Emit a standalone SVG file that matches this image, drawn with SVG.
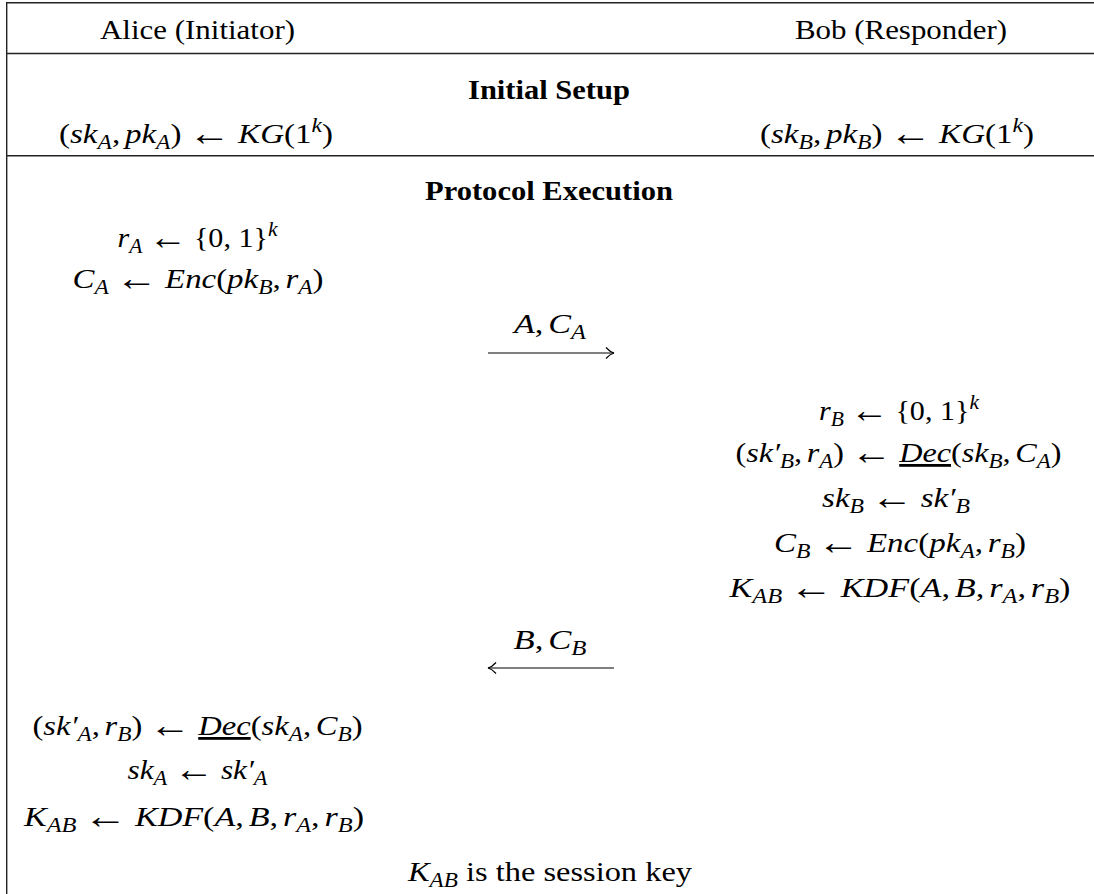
<svg xmlns="http://www.w3.org/2000/svg" width="1094" height="894" viewBox="0 0 1094 894">
<style>
.t{font-family:"Liberation Serif","Times New Roman",serif;font-size:28px;fill:#000}
.i{font-style:italic}
.s{font-size:20px}
.b{font-weight:bold}
.ar{font-size:36px;font-style:normal}
.rule{stroke:#222;stroke-width:1.4;fill:none}
.msg{stroke:#000;stroke-width:1.2;fill:none}
</style>
<defs>
<marker id="head" viewBox="0 0 10 12" refX="9" refY="6" markerWidth="10" markerHeight="12" markerUnits="userSpaceOnUse" orient="auto">
<path d="M1,0.5 Q5,5 9,6 Q5,7 1,11.5" stroke="#000" stroke-width="1.2" fill="none"/>
</marker>
</defs>
<rect width="1094" height="894" fill="#fff"/>
<g id="frame">
<line class="rule" x1="6.7" y1="2" x2="6.7" y2="894"/>
<line class="rule" x1="6" y1="2.7" x2="1094" y2="2.7"/>
<line class="rule" x1="6" y1="53.5" x2="1094" y2="53.5"/>
<line class="rule" x1="6" y1="155.7" x2="1094" y2="155.7"/>
</g>
<g id="hdr-alice"><text class="t" x="197.5" y="39" text-anchor="middle" textLength="195" lengthAdjust="spacingAndGlyphs">Alice (Initiator)</text></g>
<g id="hdr-bob"><text class="t" x="901" y="39" text-anchor="middle" textLength="212" lengthAdjust="spacingAndGlyphs">Bob (Responder)</text></g>
<g id="sec-setup"><text class="t b" x="549" y="99" text-anchor="middle" textLength="162" lengthAdjust="spacingAndGlyphs">Initial Setup</text></g>
<g id="kg-alice"><text class="t" x="196" y="143" text-anchor="middle" textLength="274" lengthAdjust="spacingAndGlyphs">(<tspan class="i">sk</tspan><tspan class="s i" dy="6">A</tspan><tspan dy="-6">,</tspan><tspan class="i" dx="4">pk</tspan><tspan class="s i" dy="6">A</tspan><tspan dy="-6">)</tspan><tspan class="ar" dx="6" dy="2">←</tspan><tspan class="i" dx="6" dy="-2">KG</tspan>(1<tspan class="s i" dy="-11">k</tspan><tspan dy="11">)</tspan></text></g>
<g id="kg-bob"><text class="t" x="897" y="143" text-anchor="middle" textLength="274" lengthAdjust="spacingAndGlyphs">(<tspan class="i">sk</tspan><tspan class="s i" dy="6">B</tspan><tspan dy="-6">,</tspan><tspan class="i" dx="4">pk</tspan><tspan class="s i" dy="6">B</tspan><tspan dy="-6">)</tspan><tspan class="ar" dx="6" dy="2">←</tspan><tspan class="i" dx="6" dy="-2">KG</tspan>(1<tspan class="s i" dy="-11">k</tspan><tspan dy="11">)</tspan></text></g>
<g id="sec-exec"><text class="t b" x="549" y="200" text-anchor="middle" textLength="248" lengthAdjust="spacingAndGlyphs">Protocol Execution</text></g>
<g id="a-ra"><text class="t" x="197.5" y="247" text-anchor="middle" textLength="160" lengthAdjust="spacingAndGlyphs"><tspan class="i">r</tspan><tspan class="s i" dy="6">A</tspan><tspan class="ar" dx="6" dy="-4">←</tspan><tspan dx="6" dy="-2">{0, 1}</tspan><tspan class="s i" dy="-11">k</tspan></text></g>
<g id="a-ca"><text class="t" x="198" y="288" text-anchor="middle" textLength="251" lengthAdjust="spacingAndGlyphs"><tspan class="i">C</tspan><tspan class="s i" dy="6">A</tspan><tspan class="ar" dx="6" dy="-4">←</tspan><tspan class="i" dx="6" dy="-2">Enc</tspan>(<tspan class="i">pk</tspan><tspan class="s i" dy="6">B</tspan><tspan dy="-6">,</tspan><tspan class="i" dx="4">r</tspan><tspan class="s i" dy="6">A</tspan><tspan dy="-6">)</tspan></text></g>
<g id="msg1-label"><text class="t" x="550" y="333" text-anchor="middle" textLength="72" lengthAdjust="spacingAndGlyphs"><tspan class="i">A</tspan>,<tspan class="i" dx="4">C</tspan><tspan class="s i" dy="6">A</tspan></text></g>
<g id="b-rb"><text class="t" x="899" y="420" text-anchor="middle" textLength="160" lengthAdjust="spacingAndGlyphs"><tspan class="i">r</tspan><tspan class="s i" dy="6">B</tspan><tspan class="ar" dx="6" dy="-4">←</tspan><tspan dx="6" dy="-2">{0, 1}</tspan><tspan class="s i" dy="-11">k</tspan></text></g>
<g id="b-dec"><text class="t" x="898.5" y="462" text-anchor="middle" textLength="326" lengthAdjust="spacingAndGlyphs">(<tspan class="i">sk′</tspan><tspan class="s i" dy="6">B</tspan><tspan dy="-6">,</tspan><tspan class="i" dx="4">r</tspan><tspan class="s i" dy="6">A</tspan><tspan dy="-6">)</tspan><tspan class="ar" dx="6" dy="2">←</tspan><tspan class="i" text-decoration="underline" dx="6" dy="-2">Dec</tspan>(<tspan class="i">sk</tspan><tspan class="s i" dy="6">B</tspan><tspan dy="-6">,</tspan><tspan class="i" dx="4">C</tspan><tspan class="s i" dy="6">A</tspan><tspan dy="-6">)</tspan></text></g>
<g id="b-upd"><text class="t" x="896" y="507" text-anchor="middle" textLength="148" lengthAdjust="spacingAndGlyphs"><tspan class="i">sk</tspan><tspan class="s i" dy="6">B</tspan><tspan class="ar" dx="6" dy="-4">←</tspan><tspan class="i" dx="6" dy="-2">sk′</tspan><tspan class="s i" dy="6">B</tspan></text></g>
<g id="b-cb"><text class="t" x="900" y="552" text-anchor="middle" textLength="252" lengthAdjust="spacingAndGlyphs"><tspan class="i">C</tspan><tspan class="s i" dy="6">B</tspan><tspan class="ar" dx="6" dy="-4">←</tspan><tspan class="i" dx="6" dy="-2">Enc</tspan>(<tspan class="i">pk</tspan><tspan class="s i" dy="6">A</tspan><tspan dy="-6">,</tspan><tspan class="i" dx="4">r</tspan><tspan class="s i" dy="6">B</tspan><tspan dy="-6">)</tspan></text></g>
<g id="b-kab"><text class="t" x="900" y="597" text-anchor="middle" textLength="341" lengthAdjust="spacingAndGlyphs"><tspan class="i">K</tspan><tspan class="s i" dy="6">AB</tspan><tspan class="ar" dx="6" dy="-4">←</tspan><tspan class="i" dx="6" dy="-2">KDF</tspan>(<tspan class="i">A</tspan>,<tspan class="i" dx="4">B</tspan>,<tspan class="i" dx="4">r</tspan><tspan class="s i" dy="6">A</tspan><tspan dy="-6">,</tspan><tspan class="i" dx="4">r</tspan><tspan class="s i" dy="6">B</tspan><tspan dy="-6">)</tspan></text></g>
<g id="msg2-label"><text class="t" x="550" y="649" text-anchor="middle" textLength="73" lengthAdjust="spacingAndGlyphs"><tspan class="i">B</tspan>,<tspan class="i" dx="4">C</tspan><tspan class="s i" dy="6">B</tspan></text></g>
<g id="a-dec"><text class="t" x="197.5" y="735" text-anchor="middle" textLength="330" lengthAdjust="spacingAndGlyphs">(<tspan class="i">sk′</tspan><tspan class="s i" dy="6">A</tspan><tspan dy="-6">,</tspan><tspan class="i" dx="4">r</tspan><tspan class="s i" dy="6">B</tspan><tspan dy="-6">)</tspan><tspan class="ar" dx="6" dy="2">←</tspan><tspan class="i" text-decoration="underline" dx="6" dy="-2">Dec</tspan>(<tspan class="i">sk</tspan><tspan class="s i" dy="6">A</tspan><tspan dy="-6">,</tspan><tspan class="i" dx="4">C</tspan><tspan class="s i" dy="6">B</tspan><tspan dy="-6">)</tspan></text></g>
<g id="a-upd"><text class="t" x="197.5" y="779" text-anchor="middle" textLength="140" lengthAdjust="spacingAndGlyphs"><tspan class="i">sk</tspan><tspan class="s i" dy="6">A</tspan><tspan class="ar" dx="6" dy="-4">←</tspan><tspan class="i" dx="6" dy="-2">sk′</tspan><tspan class="s i" dy="6">A</tspan></text></g>
<g id="a-kab"><text class="t" x="194" y="826" text-anchor="middle" textLength="340" lengthAdjust="spacingAndGlyphs"><tspan class="i">K</tspan><tspan class="s i" dy="6">AB</tspan><tspan class="ar" dx="6" dy="-4">←</tspan><tspan class="i" dx="6" dy="-2">KDF</tspan>(<tspan class="i">A</tspan>,<tspan class="i" dx="4">B</tspan>,<tspan class="i" dx="4">r</tspan><tspan class="s i" dy="6">A</tspan><tspan dy="-6">,</tspan><tspan class="i" dx="4">r</tspan><tspan class="s i" dy="6">B</tspan><tspan dy="-6">)</tspan></text></g>
<g id="session"><text class="t" x="550" y="881" text-anchor="middle" textLength="284" lengthAdjust="spacingAndGlyphs"><tspan class="i">K</tspan><tspan class="s i" dy="6">AB</tspan><tspan dy="-6"> is the session key</tspan></text></g>
<g id="connectors">
<line class="msg" x1="488" y1="353" x2="614" y2="353" marker-end="url(#head)"/>
<line class="msg" x1="614" y1="668" x2="488" y2="668" marker-end="url(#head)"/>
</g>
</svg>
